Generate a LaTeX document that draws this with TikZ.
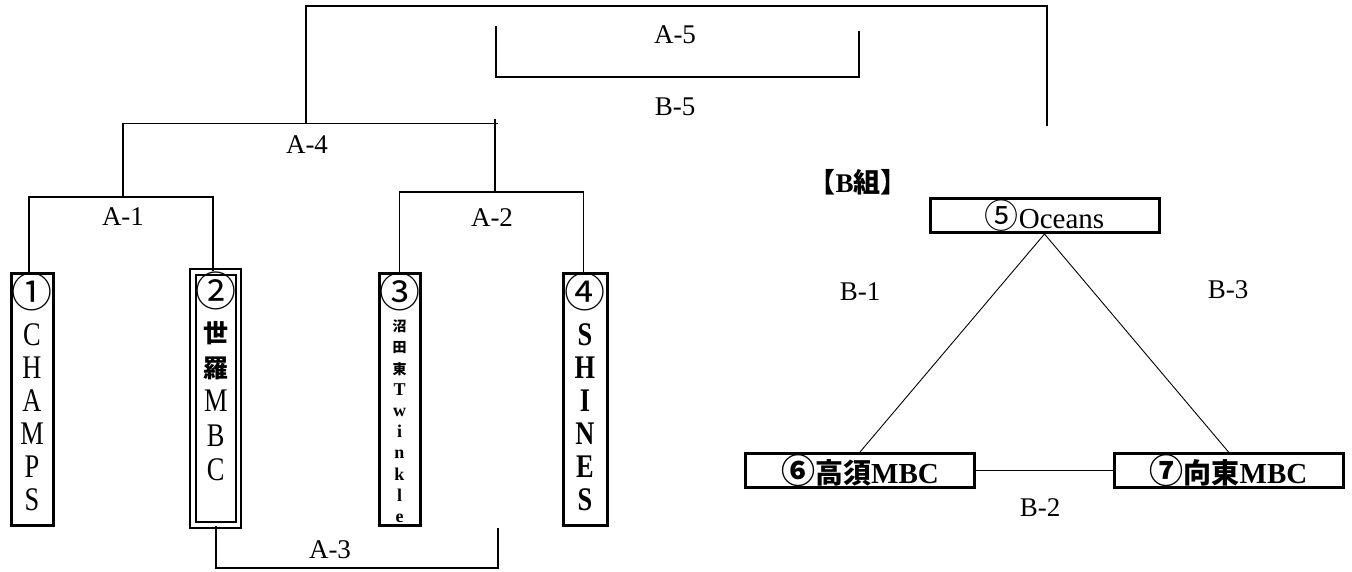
\documentclass[tikz,border=0pt]{standalone}
\usepackage{fontspec}
\setmainfont{Liberation Serif}
\newfontfamily\cjk{Noto Sans CJK JP}
\newfontfamily\narrow{Liberation Serif}[FakeStretch=0.8]
\usepackage{tikz}
\usetikzlibrary{calc,positioning}

\newcommand{\jp}[1]{{\cjk #1}}
\newcommand{\teamcol}[3]{\parbox[t][#2][t]{#1}{\centering #3}}
\newcommand{\circnum}[1]{{\cjk\mdseries\fontsize{41}{41}\selectfont #1}}

\begin{document}
\begin{tikzpicture}[x=1pt,y=-1pt]

\tikzset{team/.style = {draw, line width=3pt, inner sep=0pt, anchor=north west}}
\tikzset{pool/.style = {draw, line width=3pt, inner sep=0pt, minimum width=229pt, minimum height=34pt, font=\fontsize{29}{30}\selectfont}}
\tikzset{bracket/.style = {line width=1.6pt}}
\tikzset{link/.style = {line width=0.9pt}}
\tikzset{lab/.style = {inner sep=0pt, font=\fontsize{27}{27}\selectfont}}

\useasboundingbox (0,0) rectangle (1352,572);

% teams of group A
\node[team] (t1) at (9.5,271.5) {\teamcol{42pt}{252pt}{\fontsize{33}{33}\selectfont\narrow
  \circnum{①}\\[5pt] C\\H\\A\\M\\P\\S}};
\node[team, line width=2pt, double, double distance=3.5pt] (t2) at (192,271) {\teamcol{45.5pt}{253pt}{\fontsize{33}{34.5}\selectfont\narrow
  \circnum{②}\\[1.5pt] {\cjk\bfseries\fontsize{25}{25}\selectfont 世}\\{\cjk\bfseries\fontsize{25}{25}\selectfont 羅}\\M\\B\\C}};
\node[team] (t3) at (377.5,271.5) {\teamcol{41pt}{252pt}{\fontsize{18}{21.2}\selectfont\bfseries
  \circnum{③}\\[2.8pt] {\cjk\fontsize{14}{14}\selectfont 沼}\\{\cjk\fontsize{14}{14}\selectfont 田}\\{\cjk\fontsize{14}{14}\selectfont 東}\\T\\w\\i\\n\\k\\l\\e}};
\node[team] (t4) at (561.5,271.5) {\teamcol{44pt}{252pt}{\fontsize{33}{33}\selectfont\narrow\bfseries
  \circnum{④}\\[5pt] S\\H\\I\\N\\E\\S}};

% junctions
\coordinate (a1) at (123,197);
\coordinate (a2) at (495,192);
\coordinate (a4) at (306,123.5);
\coordinate (a3) at (498,568);
\coordinate (top) at (1047,6);
\coordinate (f1) at (496,26);
\coordinate (f2) at (859,31);

% bracket lines
\draw[bracket] ($(t1.north)+(-3,0)$) |- (a1) -| ($(t2.north)+(-3,0)$);
\draw[bracket] (t3.north) |- (a2) -| ($(t4.north)+(-1.5,0)$);
\draw[bracket] (a1) |- ($(a2 |- a4)+(3,0)$);
\draw[bracket] (a2) -- ++(0,-73);
\draw[bracket] ($(a4)+(-3,0)$) -- (a4) |- (top) -- ++(0,120);
\draw[bracket] (t2.south) |- (a3) -- ++(0,-40);
\draw[bracket] (f1) -- ++(0,51) -| (f2);

% match labels
\node[lab] (l1) at (123,217) {A-1};
\node[lab] (l2) at (492,218) {A-2};
\node[lab] (l3) at (330,550) {A-3};
\node[lab] (l4) at (307,145) {A-4};
\node[lab] (l5) at (675,35) {A-5};
\node[lab] (m5) at (675,107) {B-5};

% group B
\node[lab, font=\fontsize{27}{27}\selectfont\bfseries] (bgrp) at (858,182) {\jp{【}B\jp{組】}};
\node[pool] (b5) at (1044.5,215.5) {\jp{\fontsize{34}{34}\selectfont ⑤}Oceans};
\node[pool] (b6) at (860,470.5) {\bfseries\jp{\fontsize{34}{34}\selectfont ⑥\fontsize{28}{28}\selectfont 高須}MBC};
\node[pool] (b7) at (1228.5,470.5) {\bfseries\jp{\fontsize{34}{34}\selectfont ⑦\fontsize{28}{28}\selectfont 向東}MBC};

\draw[link] (b5.south) -- (b6.north);
\draw[link] (b5.south) -- (b7.north);
\draw[bracket] (b6) -- (b7);

\node[lab] (m1) at (860,292) {B-1};
\node[lab] (m2) at (1040,508) {B-2};
\node[lab] (m3) at (1228,290) {B-3};

\end{tikzpicture}
\end{document}
